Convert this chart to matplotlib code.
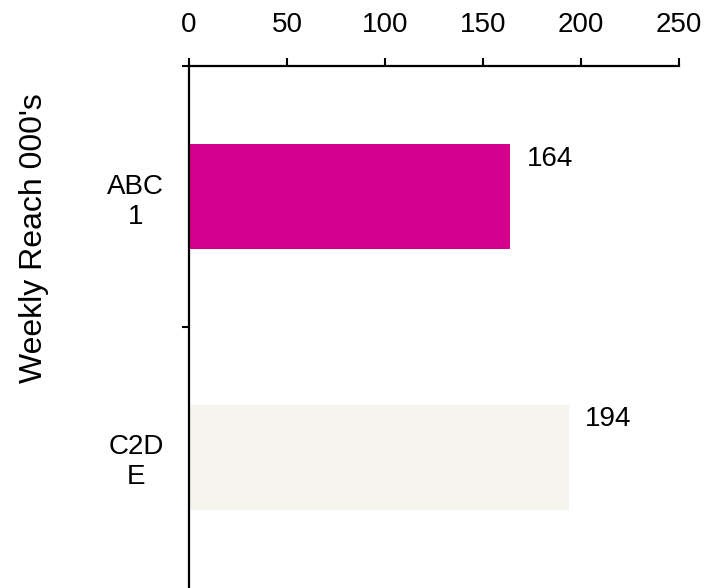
import matplotlib
matplotlib.use("Agg")
import matplotlib.pyplot as plt

plt.rcParams['font.family'] = ['Liberation Sans', 'DejaVu Sans']

# Data
categories = ['ABC\n1', 'C2D\nE']
values = [164, 194]
bar_colors = ['#D6008F', '#F4F3EC']
x_ticks = [0, 50, 100, 150, 200, 250]

fig = plt.figure(figsize=(7.14, 5.88), dpi=100)
ax = fig.add_axes([189 / 714, 0, (679 - 189) / 714, (588 - 66) / 588])

pos = [i + 0.5 for i in range(len(categories))]
ax.barh(pos, values, height=0.4, color=bar_colors)

# value labels
for p, v in zip(pos, values):
    ax.annotate(str(v), (v, p), xytext=(16, 38), textcoords='offset pixels',
                ha='left', va='center', fontsize=20)

ax.set_xlim(0, 250)
ax.set_ylim(len(categories), 0)

ax.xaxis.tick_top()
ax.set_xticks(x_ticks)
ax.tick_params(axis='x', direction='out', length=5.5, width=1.5, pad=15, labelsize=20)

# category separators as major ticks, names on minor ticks
ax.set_yticks(range(len(categories)))
ax.set_yticklabels([])
ax.set_yticks(pos, minor=True)
ax.set_yticklabels(categories, minor=True, fontsize=20, multialignment='center')
ax.tick_params(axis='y', which='major', direction='out', length=5, width=1.5)
ax.tick_params(axis='y', which='minor', length=0, pad=18)

for side in ['right', 'bottom']:
    ax.spines[side].set_visible(False)
for side in ['left', 'top']:
    ax.spines[side].set_linewidth(1.6)

fig.text(34 / 714, 1 - 238 / 588, "Weekly Reach 000's", rotation=90,
         ha='center', va='center', fontsize=23)

fig.savefig('out.png', dpi=100)
